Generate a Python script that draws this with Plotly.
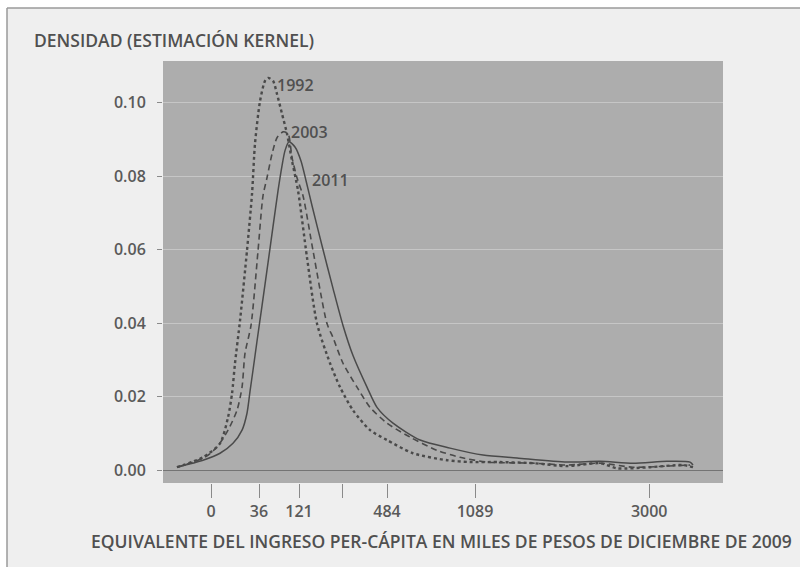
import numpy as np
import plotly.graph_objects as go

# Kernel density of per-capita income, horizontal axis on a square-root scale
# (x values are the square root of income in thousands of Dec-2009 pesos).
raiz_ingreso_1992 = [-4.25, -1.0, 1.13, 2.13, 2.63, 3.0, 3.63, 4.5, 5.13, 5.5, 6.13, 6.75, 7.13,
                     7.75, 8.25, 8.88, 9.5, 10.13, 10.88, 12.0, 13.25, 14.88, 16.13, 17.75, 19.88,
                     22.0, 25.25, 29.5, 32.38, 36.13, 40.25, 44.5, 48.63, 50.75, 54.88, 59.0, 60.25]
densidad_1992 = [0.0008, 0.0035, 0.0073, 0.0144, 0.0209, 0.0291, 0.0408, 0.0598, 0.0753, 0.0889,
                 0.1005, 0.1060, 0.1068, 0.1060, 0.1024, 0.0970, 0.0916, 0.0842, 0.0761, 0.0579,
                 0.0399, 0.0291, 0.0226, 0.0163, 0.0109, 0.0082, 0.0046, 0.0027, 0.0022, 0.0022,
                 0.0019, 0.0011, 0.0019, 0.0005, 0.0008, 0.0014, 0.0008]

raiz_ingreso_2003 = [-4.25, -0.75, 0.75, 2.13, 3.25, 3.88, 4.25, 5.0, 5.88, 6.5, 7.0, 7.63, 8.25,
                     9.0, 9.63, 10.13, 10.75, 11.5, 12.75, 14.5, 15.25, 16.5, 18.25, 19.88, 22.0,
                     24.88, 28.25, 31.13, 34.5, 40.25, 44.5, 48.63, 52.75, 57.0, 59.88]
densidad_2003 = [0.0008, 0.0035, 0.0063, 0.0109, 0.0163, 0.0226, 0.0318, 0.0394, 0.0598, 0.0747,
                 0.0796, 0.0861, 0.0905, 0.0921, 0.0916, 0.0851, 0.0796, 0.0747, 0.0598, 0.0399,
                 0.0361, 0.0291, 0.0226, 0.0171, 0.0128, 0.0090, 0.0054, 0.0035, 0.0022, 0.0019,
                 0.0014, 0.0019, 0.0008, 0.0011, 0.0014]

raiz_ingreso_2011 = [-4.25, -1.0, 1.13, 2.75, 3.88, 4.5, 4.88, 5.25, 5.75, 6.38, 7.13, 7.75, 8.38,
                     8.88, 9.25, 9.75, 10.5, 11.25, 11.88, 12.63, 13.88, 15.25, 16.5, 17.75, 19.5,
                     20.75, 22.75, 26.13, 29.88, 34.0, 38.25, 44.5, 48.63, 52.75, 57.0, 59.88, 60.25]
densidad_2011 = [0.0008, 0.0027, 0.0046, 0.0073, 0.0109, 0.0155, 0.0215, 0.0272, 0.0351, 0.0448,
                 0.0565, 0.0663, 0.0761, 0.0829, 0.0870, 0.0894, 0.0880, 0.0842, 0.0788, 0.0720,
                 0.0611, 0.0495, 0.0394, 0.0312, 0.0226, 0.0171, 0.0128, 0.0082, 0.0060, 0.0041,
                 0.0033, 0.0022, 0.0024, 0.0019, 0.0024, 0.0022, 0.0014]

# Axis ticks (income in thousands of pesos) and density ticks
ingreso_ticks = [0, 36, 121, 272, 484, 1089, 3000]
ingreso_etiquetas = ["0", "36", "121", "", "484", "1089", "3000"]
densidad_ticks = [0.00, 0.02, 0.04, 0.06, 0.08, 0.10]
densidad_etiquetas = ["0.00", "0.02", "0.04", "0.06", "0.08", "0.10"]

anios = ["1992", "2003", "2011"]
# (x, y) anchor of each year label, in axis units
pos_etiquetas = [(8.0, 0.1050), (9.75, 0.0921), (12.4, 0.0790)]

# ---- figure geometry -------------------------------------------------------
W, H = 800, 567
ML, MR, MT, MB = 163, 77, 61, 84
PW, PH = W - ML - MR, H - MT - MB

def px_x(p):
    return (p - ML) / PW

def px_y(p):
    return (H - MB - p) / PH

INK = "#505050"
FONT = "Open Sans"

fig = go.Figure()
estilos = [dict(dash="dot", width=2.4), dict(dash="6px,4px", width=1.6), dict(dash="solid", width=1.5)]
series = [(raiz_ingreso_1992, densidad_1992), (raiz_ingreso_2003, densidad_2003),
          (raiz_ingreso_2011, densidad_2011)]
for (xs, ys), est, nombre in zip(series, estilos, anios):
    fig.add_trace(go.Scatter(x=xs, y=ys, mode="lines", name=nombre, showlegend=False,
                             line=dict(color="#4a4a4a", shape="spline", smoothing=0.7, **est),
                             hoverinfo="skip"))

for nombre, (ax, ay) in zip(anios, pos_etiquetas):
    fig.add_annotation(x=ax, y=ay, text=nombre, showarrow=False, xanchor="left", yanchor="middle",
                       font=dict(family=FONT, size=16, color=INK, weight=600))

# Titles
fig.add_annotation(x=px_x(32), y=px_y(40), xref="paper", yref="paper", text="DENSIDAD (ESTIMACIÓN KERNEL)",
                   showarrow=False, xanchor="left", yanchor="middle",
                   font=dict(family=FONT, size=17.5, color=INK, weight=600))
fig.add_annotation(x=px_x(441), y=px_y(541), xref="paper", yref="paper",
                   text="EQUIVALENTE DEL INGRESO PER-CÁPITA EN MILES DE PESOS DE DICIEMBRE DE 2009",
                   showarrow=False, xanchor="center", yanchor="middle",
                   font=dict(family=FONT, size=17.5, color=INK, weight=600))

# Page: white margin, frame lines
shapes = [
    dict(type="rect", xref="paper", yref="paper", x0=px_x(-5), x1=px_x(W + 5), y0=px_y(8), y1=px_y(-5),
         fillcolor="white", line=dict(width=0), layer="above"),
    dict(type="rect", xref="paper", yref="paper", x0=px_x(-5), x1=px_x(7), y0=px_y(H + 5), y1=px_y(-5),
         fillcolor="white", line=dict(width=0), layer="above"),
    dict(type="line", xref="paper", yref="paper", x0=px_x(7), x1=px_x(W + 5), y0=px_y(8), y1=px_y(8),
         line=dict(color="#9a9a9a", width=1.5), layer="above"),
    dict(type="line", xref="paper", yref="paper", x0=px_x(7), x1=px_x(7), y0=px_y(8), y1=px_y(H + 5),
         line=dict(color="#9a9a9a", width=1.5), layer="above"),
]

fig.update_layout(
    width=W, height=H,
    margin=dict(l=ML, r=MR, t=MT, b=MB),
    paper_bgcolor="#efefef",
    plot_bgcolor="#adadad",
    shapes=shapes,
    xaxis=dict(range=[-6, 64], tickmode="array", tickvals=list(np.sqrt(ingreso_ticks)),
               ticktext=ingreso_etiquetas, ticks="outside", ticklen=14, tickwidth=1.2,
               tickcolor="#8a8a8a", showgrid=False, zeroline=False, showline=False,
               tickfont=dict(family=FONT, size=16, color="#5a5a5a", weight=600)),
    yaxis=dict(range=[-0.0035, 0.1114], tickmode="array", tickvals=densidad_ticks,
               ticktext=densidad_etiquetas, ticks="outside", ticklen=5, tickwidth=1.2,
               tickcolor="#8a8a8a", showgrid=True, gridcolor="#c6c6c6", gridwidth=1,
               zeroline=True, zerolinecolor="#747474", zerolinewidth=1.2, showline=False,
               ticklabelstandoff=8,
               tickfont=dict(family=FONT, size=16, color="#5a5a5a", weight=600)),
)

fig.write_html("out.html")
